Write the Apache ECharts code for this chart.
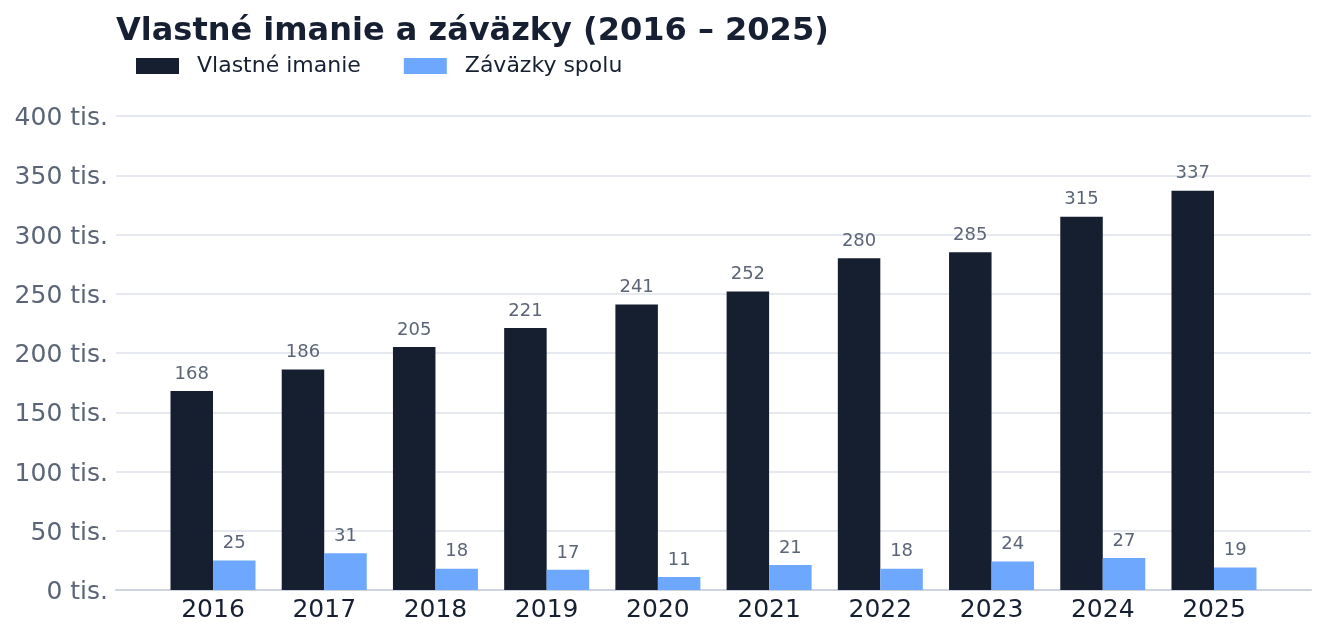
<!DOCTYPE html>
<html>
<head>
<meta charset="utf-8">
<title>Vlastné imanie a záväzky</title>
<script src="https://cdn.jsdelivr.net/npm/echarts@6/dist/echarts.min.js"></script>
<style>
  html, body { margin: 0; padding: 0; background: #fff; }
  #chart { width: 1326px; height: 636px; }
</style>
</head>
<body>
<div id="chart"></div>
<script>
// roky
var years = ['2016', '2017', '2018', '2019', '2020', '2021', '2022', '2023', '2024', '2025'];
// hodnoty v tis.
var equity = [168, 186, 205, 221, 241, 252, 280, 285, 315, 337];
var liabilities = [25, 31, 18, 17, 11, 21, 18, 24, 27, 19];
var yTicks = [0, 50, 100, 150, 200, 250, 300, 350, 400];

var dark = '#161f2f';
var blue = '#6ea8fe';
var gray = '#5b6577';

var myChart = echarts.init(document.getElementById('chart'));

var barLabel = {
    show: true,
    position: 'top',
    distance: 8,
    color: gray,
    fontSize: 18,
    fontFamily: 'DejaVu Sans'
};

var option = {
    animation: false,
    textStyle: { fontFamily: 'DejaVu Sans' },
    title: {
        text: 'Vlastné imanie a záväzky (2016 – 2025)',
        left: 111,
        top: 11,
        textStyle: { fontSize: 32, fontWeight: 'bold', color: '#172033', fontFamily: 'DejaVu Sans' }
    },
    legend: {
        left: 131,
        top: 50,
        icon: 'rect',
        itemWidth: 43,
        itemHeight: 16,
        itemGap: 43,
        textStyle: { fontSize: 22, color: '#172033', fontFamily: 'DejaVu Sans', padding: [0, 0, 0, 13] },
        data: ['Vlastné imanie', 'Záväzky spolu']
    },
    // grid 0 = siroka mriezka s osou y, grid 1 = stlpce
    grid: [
        { left: 116, right: 15, top: 116, bottom: 46 },
        { left: 157.4, right: 56.4, top: 116, bottom: 46 }
    ],
    xAxis: [
        {
            type: 'category',
            gridIndex: 0,
            data: [''],
            axisLine: { show: true, lineStyle: { color: '#cfd3dd', width: 2 } },
            axisTick: { show: false },
            axisLabel: { show: false }
        },
        {
            type: 'category',
            gridIndex: 1,
            data: years,
            axisLine: { show: false },
            axisTick: { show: false },
            axisLabel: { fontSize: 25, color: '#172033', margin: 8 }
        }
    ],
    yAxis: [
        {
            type: 'value',
            gridIndex: 0,
            min: 0,
            max: 400,
            interval: 50,
            axisLine: { show: false },
            axisTick: { show: false },
            axisLabel: {
                margin: 8,
                formatter: function (v) { return yTicks.indexOf(v) >= 0 ? '{t|' + v + ' tis.}' : ''; },
                rich: {
                    t: { fontSize: 25, color: gray, fontFamily: 'DejaVu Sans', padding: [5, 0, 0, 0] }
                }
            },
            splitLine: { lineStyle: { color: '#e6e9ef', width: 2 } }
        },
        {
            type: 'value',
            gridIndex: 1,
            min: 0,
            max: 400,
            interval: 50,
            show: false,
            splitLine: { show: false }
        }
    ],
    series: [
        {
            name: 'Vlastné imanie',
            type: 'bar',
            xAxisIndex: 1,
            yAxisIndex: 1,
            barWidth: 42.5,
            barGap: '0%',
            itemStyle: { color: dark },
            label: barLabel,
            data: equity
        },
        {
            name: 'Záväzky spolu',
            type: 'bar',
            xAxisIndex: 1,
            yAxisIndex: 1,
            barWidth: 42.5,
            barGap: '0%',
            itemStyle: { color: blue },
            label: barLabel,
            data: liabilities
        }
    ]
};

myChart.setOption(option);
</script>
</body>
</html>
